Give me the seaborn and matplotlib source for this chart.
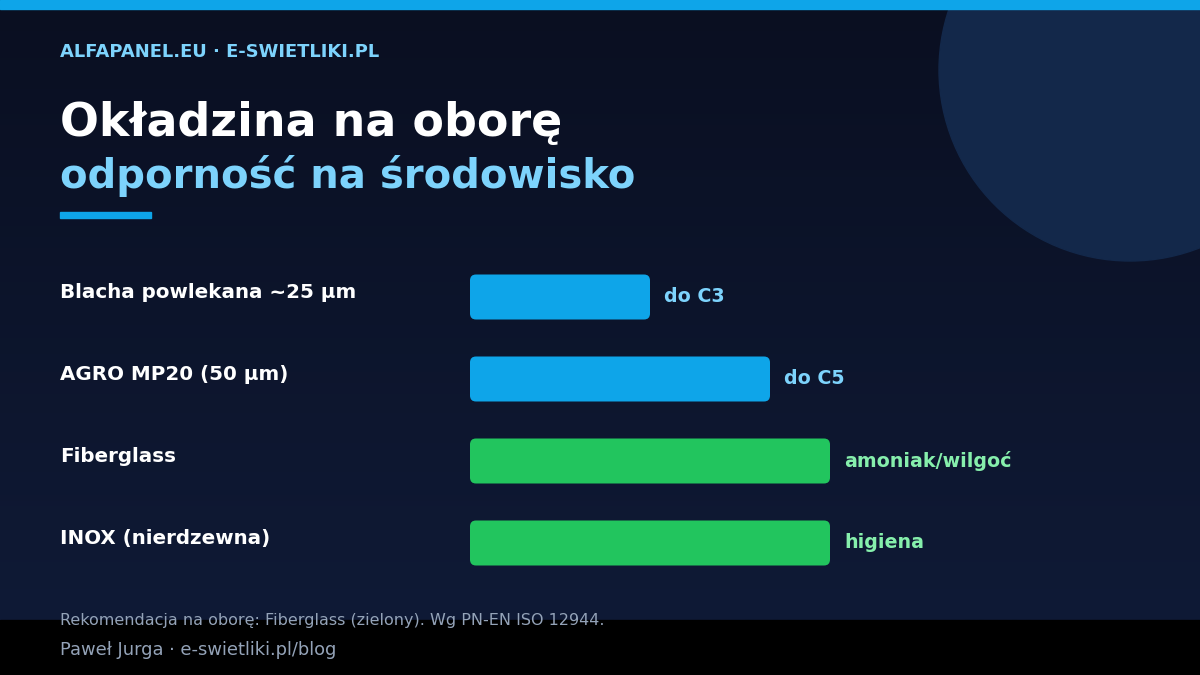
import numpy as np
import pandas as pd
import seaborn as sns
import matplotlib.pyplot as plt
from matplotlib.patches import FancyBboxPatch, Circle, Rectangle
from matplotlib.transforms import blended_transform_factory

# data
materials = ["Blacha powlekana ~25 µm", "AGRO MP20 (50 µm)", "Fiberglass", "INOX (nierdzewna)"]
scores = [3, 5, 6, 6]
notes = ["do C3", "do C5", "amoniak/wilgoć", "higiena"]
groups = ["std", "std", "rec", "rec"]

bar_colors = {"std": "#0ea5e9", "rec": "#22c55e"}
note_colors = {"std": "#7dd3fc", "rec": "#86efac"}

df = pd.DataFrame({"material": materials, "score": scores, "note": notes, "group": groups})

sns.set_theme(style="white")
plt.rcParams["font.family"] = ["DejaVu Sans"]

W, H = 1200, 675
fig = plt.figure(figsize=(12, 6.75), dpi=100)

# background in pixel coordinates
bg = fig.add_axes([0, 0, 1, 1], zorder=0)
bg.set_xlim(0, W)
bg.set_ylim(H, 0)
bg.axis("off")
top = np.array([0x0a, 0x0f, 0x21]) / 255
bot = np.array([0x0f, 0x1a, 0x36]) / 255
t = np.linspace(0, 1, 256)[:, None]
grad = (top * (1 - t) + bot * t)[:, None, :]
bg.imshow(grad, extent=[0, W, 620, 0], aspect="auto", zorder=0)
bg.add_patch(Circle((1130, 70), 191, color="#13284a", zorder=1))
bg.add_patch(Rectangle((0, 620), W, 55, color="#000000", zorder=1))
bg.add_patch(Rectangle((0, 0), W, 9, color="#0ea5e9", zorder=2))
bg.add_patch(Rectangle((60, 212), 91, 6, color="#0ea5e9", zorder=2))
bg.set_xlim(0, W)
bg.set_ylim(H, 0)

def fx(x):
    return x / W

def fy(y):
    return 1 - y / H

fig.text(fx(60), fy(57), "ALFAPANEL.EU · E-SWIETLIKI.PL", color="#7dd3fc",
         fontsize=12.9, fontweight="bold", va="baseline")
fig.text(fx(60), fy(136), "Okładzina na oborę", color="white",
         fontsize=33, fontweight="bold", va="baseline")
fig.text(fx(60), fy(188), "odporność na środowisko", color="#7dd3fc",
         fontsize=28.9, fontweight="bold", va="baseline")
fig.text(fx(60), fy(625), "Rekomendacja na oborę: Fiberglass (zielony). Wg PN-EN ISO 12944.",
         color="#94a3b8", fontsize=11.5, va="baseline")
fig.text(fx(60), fy(655), "Paweł Jurga · e-swietliki.pl/blog",
         color="#94a3b8", fontsize=12.9, va="baseline")

# bar axes: x from 470 px, 60 px per unit; rows 82 px apart
ax = fig.add_axes([fx(470), fy(584), (W - 470) / W, 328 / H], zorder=2)
sns.barplot(data=df, y="material", x="score", hue="group", palette=bar_colors,
            dodge=False, width=45 / 82, legend=False, ax=ax, saturation=1)
ax.set_xlim(0, (W - 470) / 60)
ax.set_ylim(3.5, -0.5)
ax.axis("off")
ax.patch.set_alpha(0)

# rounded corners
for p in list(ax.patches):
    if p.get_width() <= 0:
        p.remove()
        continue
    rb = FancyBboxPatch((p.get_x(), p.get_y()), p.get_width(), p.get_height(),
                        boxstyle="round,pad=0,rounding_size=0.1",
                        mutation_aspect=0.73,
                        facecolor=p.get_facecolor(), edgecolor="none")
    p.remove()
    ax.add_patch(rb)

trans = blended_transform_factory(fig.transFigure, ax.transData)
for i, row in df.iterrows():
    ax.text(fx(60), i - 0.05, row["material"], transform=trans, color="white",
            fontsize=14.3, fontweight="bold", va="center", ha="left")
    ax.text(row["score"] + 14 / 60, i, row["note"], color=note_colors[row["group"]],
            fontsize=13.7, fontweight="bold", va="center", ha="left")

fig.savefig("out.png", dpi=100, facecolor="#0a0f21")
